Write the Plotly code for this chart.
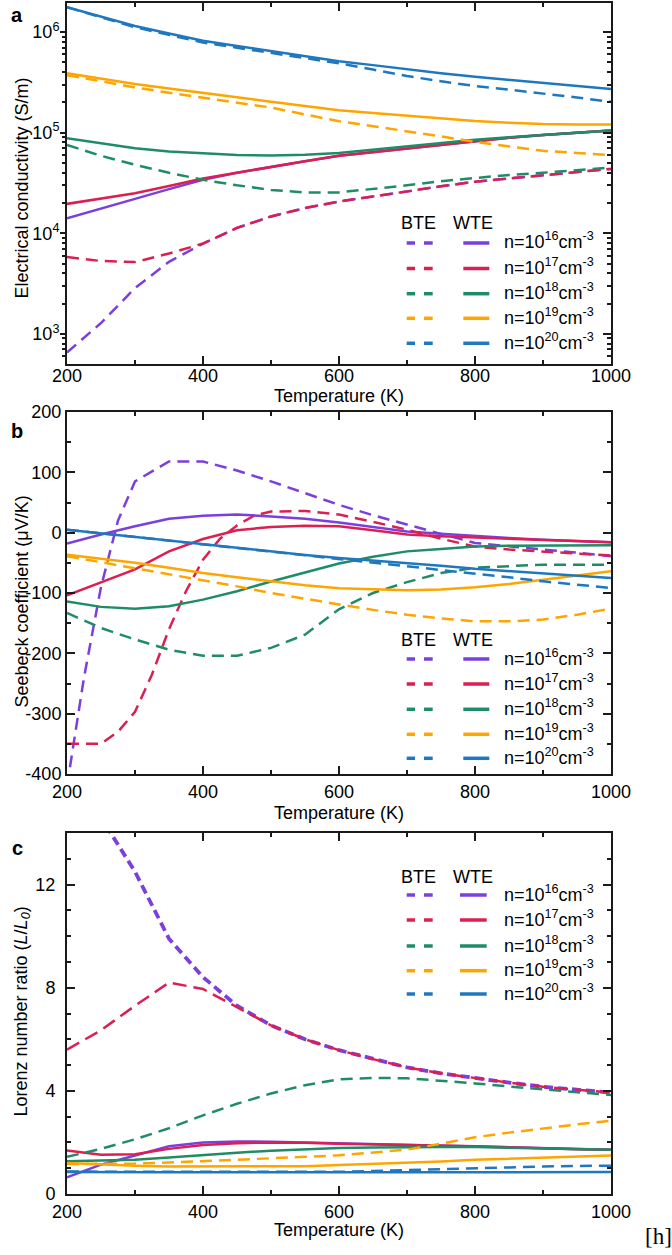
import plotly.graph_objects as go

# ---------------- data ----------------
T = [200, 250, 300, 350, 400, 450, 500, 550, 600, 650, 700, 750, 800, 850, 900, 950, 1000]
labels_n = ["16", "17", "18", "19", "20"]
colors = ["#7b3fdc", "#dc1f52", "#1f8c66", "#ffa500", "#1f78bf"]

# Panel a: electrical conductivity (S/m)
sig_wte = [
    [1.41e4, 1.75e4, 2.2e4, 2.75e4, 3.4e4, 4.0e4, 4.6e4, 5.2e4, 5.9e4, 6.4e4, 7.0e4, 7.6e4, 8.3e4, 8.9e4, 9.5e4, 1.0e5, 1.05e5],
    [1.96e4, 2.2e4, 2.5e4, 2.95e4, 3.5e4, 4.0e4, 4.6e4, 5.2e4, 5.9e4, 6.4e4, 7.0e4, 7.6e4, 8.3e4, 8.9e4, 9.5e4, 1.0e5, 1.05e5],
    [8.8e4, 7.8e4, 7.0e4, 6.5e4, 6.2e4, 6.0e4, 5.95e4, 6.05e4, 6.3e4, 6.8e4, 7.3e4, 7.9e4, 8.5e4, 9.0e4, 9.5e4, 1.0e5, 1.05e5],
    [3.9e5, 3.45e5, 3.05e5, 2.75e5, 2.5e5, 2.25e5, 2.03e5, 1.84e5, 1.67e5, 1.57e5, 1.48e5, 1.39e5, 1.31e5, 1.26e5, 1.22e5, 1.21e5, 1.21e5],
    [1.77e6, 1.42e6, 1.15e6, 9.7e5, 8.2e5, 7.3e5, 6.5e5, 5.8e5, 5.15e5, 4.7e5, 4.27e5, 3.9e5, 3.6e5, 3.35e5, 3.1e5, 2.9e5, 2.72e5],
]
sig_bte = [
    [653, 1.28e3, 2.85e3, 5.2e3, 7.9e3, 1.13e4, 1.47e4, 1.78e4, 2.07e4, 2.33e4, 2.6e4, 2.93e4, 3.26e4, 3.52e4, 3.8e4, 4.08e4, 4.37e4],
    [5.8e3, 5.3e3, 5.17e3, 6.3e3, 7.9e3, 1.13e4, 1.47e4, 1.78e4, 2.07e4, 2.33e4, 2.6e4, 2.93e4, 3.26e4, 3.52e4, 3.8e4, 4.08e4, 4.37e4],
    [7.55e4, 5.9e4, 4.8e4, 4.0e4, 3.4e4, 3.0e4, 2.7e4, 2.55e4, 2.55e4, 2.75e4, 3.0e4, 3.3e4, 3.57e4, 3.8e4, 4.0e4, 4.25e4, 4.5e4],
    [3.74e5, 3.25e5, 2.82e5, 2.5e5, 2.24e5, 2.0e5, 1.78e5, 1.52e5, 1.3e5, 1.16e5, 1.04e5, 9.2e4, 8.1e4, 7.3e4, 6.6e4, 6.3e4, 6.0e4],
    [1.77e6, 1.40e6, 1.12e6, 9.4e5, 7.9e5, 7.0e5, 6.25e5, 5.5e5, 4.9e5, 4.25e5, 3.66e5, 3.25e5, 2.91e5, 2.68e5, 2.46e5, 2.24e5, 2.03e5],
]

# Panel b: Seebeck coefficient (uV/K)
T_s16_bte = [200, 225, 250, 275, 300, 350, 400, 450, 500, 550, 600, 650, 700, 750, 800, 850, 900, 950, 1000]
s16_bte = [-420, -240, -90, 20, 85, 118, 118, 103, 85, 66, 46, 29, 13, -2, -17, -23, -28, -33, -39]
T_s17_bte = [200, 250, 275, 300, 325, 350, 375, 400, 425, 450, 475, 500, 550, 600, 650, 700, 750, 800, 850, 900, 950, 1000]
s17_bte = [-350, -350, -330, -297, -235, -160, -97, -45, -10, 12, 28, 35, 36, 30, 18, 5, -10, -23, -28, -31, -35, -38]
see_wte = [
    [-18, -3, 10.5, 23, 28, 30, 27, 23, 17, 10, 2, -2, -6, -9, -11.6, -14, -16],
    [-104, -83, -61, -31, -10.5, 4, 9.5, 11.6, 10.5, 4, -3, -6, -8, -10, -11.6, -14, -16],
    [-114, -123, -126, -122, -111, -97, -81, -66, -51, -40, -31, -27, -23, -21.5, -21, -21, -21],
    [-36.5, -43, -50, -58, -67, -74, -81, -87, -92, -94, -95.6, -94, -90.6, -85, -78, -71, -64],
    [5, -1, -7, -13, -19.6, -25, -31, -37, -42, -46, -50, -55, -60, -63.5, -67, -71, -75],
]
see_bte_18_20 = [
    [-133, -158, -177, -194, -204, -204, -191, -169, -127, -100, -82, -67, -58, -55, -53, -53, -53],
    [-39, -49, -58.6, -68, -78, -89, -100, -110, -119, -128, -136, -142, -147, -147, -144, -136, -126],
    [5, -1, -7, -13, -20, -26, -32, -38, -44, -50, -56, -62, -68, -74, -80.7, -86, -91.7],
]

# Panel c: Lorenz number ratio
lor_wte = [
    [0.65, 1.14, 1.49, 1.85, 2.0, 2.04, 2.03, 2.0, 1.96, 1.93, 1.9, 1.87, 1.84, 1.81, 1.78, 1.75, 1.72],
    [1.69, 1.52, 1.54, 1.75, 1.9, 1.97, 2.0, 1.99, 1.95, 1.93, 1.91, 1.88, 1.85, 1.81, 1.77, 1.74, 1.72],
    [1.27, 1.29, 1.33, 1.42, 1.52, 1.6, 1.68, 1.74, 1.78, 1.8, 1.82, 1.82, 1.82, 1.8, 1.77, 1.75, 1.72],
    [1.2, 1.14, 1.1, 1.07, 1.07, 1.07, 1.07, 1.08, 1.12, 1.16, 1.2, 1.26, 1.33, 1.37, 1.4, 1.45, 1.49],
    [0.85, 0.84, 0.84, 0.84, 0.84, 0.84, 0.84, 0.84, 0.84, 0.84, 0.84, 0.84, 0.84, 0.84, 0.84, 0.85, 0.85],
]
lor_bte = [
    [19.5, 14.6, 12.5, 9.9, 8.41, 7.3, 6.54, 6.0, 5.58, 5.23, 4.91, 4.68, 4.49, 4.32, 4.16, 4.04, 3.93],
    [5.6, 6.35, 7.3, 8.2, 7.95, 7.25, 6.54, 6.0, 5.58, 5.23, 4.91, 4.68, 4.49, 4.32, 4.16, 4.04, 3.93],
    [1.44, 1.75, 2.12, 2.55, 3.05, 3.5, 3.9, 4.22, 4.45, 4.5, 4.49, 4.4, 4.29, 4.17, 4.06, 3.95, 3.84],
    [1.16, 1.16, 1.18, 1.22, 1.27, 1.32, 1.38, 1.44, 1.5, 1.6, 1.72, 1.95, 2.2, 2.38, 2.55, 2.7, 2.84],
    [0.87, 0.86, 0.86, 0.86, 0.86, 0.86, 0.86, 0.86, 0.86, 0.89, 0.92, 0.96, 1.0, 1.03, 1.07, 1.09, 1.1],
]

x_ticks = [200, 400, 600, 800, 1000]
ya_ticks = [1e3, 1e4, 1e5, 1e6]
ya_text = ["10<sup>3</sup>", "10<sup>4</sup>", "10<sup>5</sup>", "10<sup>6</sup>"]
ya_minor = [m * 10 ** e for e in (2, 3, 4, 5, 6) for m in range(2, 10)]
yb_ticks = [-400, -300, -200, -100, 0, 100, 200]
yb_text = ["-400", "-300", "-200", "-100", "0", "100", "200"]
yc_ticks = [0, 4, 8, 12]

# ---------------- figure ----------------
W, H = 672, 1255
FONT = "Liberation Sans, Arial, sans-serif"
AX = "#1a1a1a"
DASH = "12px,7px"

def fx(px):
    return px / W

def fy(py):
    return 1 - py / H

fig = go.Figure()

panels = [(3, 364), (412, 774), (833, 1194)]
XL, XR = 67, 611

def add(xa, ya, x, y, color, dash=None, width=2.5):
    fig.add_trace(go.Scatter(x=x, y=y, mode="lines", xaxis=xa, yaxis=ya,
                             line=dict(color=color, width=width, dash=dash),
                             showlegend=False, hoverinfo="skip"))

# Panel a
for i in range(5):
    add("x", "y", T, sig_bte[i], colors[i], DASH)
    add("x", "y", T, sig_wte[i], colors[i])
# Panel b
add("x2", "y2", T_s16_bte, s16_bte, colors[0], DASH)
add("x2", "y2", T, see_wte[0], colors[0])
add("x2", "y2", T_s17_bte, s17_bte, colors[1], DASH)
add("x2", "y2", T, see_wte[1], colors[1])
for i in range(2, 5):
    add("x2", "y2", T, see_bte_18_20[i - 2], colors[i], DASH)
    add("x2", "y2", T, see_wte[i], colors[i])
# Panel c
add("x3", "y3", T, lor_bte[0], colors[0], "9px,5px", 3.8)
add("x3", "y3", T, lor_wte[0], colors[0])
add("x3", "y3", T, lor_bte[1], colors[1], "14px,7px")
add("x3", "y3", T, lor_wte[1], colors[1])
for i in range(2, 5):
    add("x3", "y3", T, lor_bte[i], colors[i], DASH)
    add("x3", "y3", T, lor_wte[i], colors[i])

tickfont = dict(family=FONT, size=18, color="black")

def xaxis_cfg(anchor, standoff):
    return dict(domain=[fx(XL), fx(XR)], anchor=anchor, range=[200, 1000],
                tickmode="array", tickvals=x_ticks, ticks="inside", ticklen=8, tickwidth=1.5,
                tickcolor=AX, showline=True, linewidth=2, linecolor=AX,
                mirror="ticks", showgrid=False, zeroline=False, automargin=False,
                tickfont=tickfont, ticklabelstandoff=standoff,
                minor=dict(dtick=100, tick0=200, ticks="inside", ticklen=4,
                           tickwidth=1.5, tickcolor=AX, showgrid=False))

def ydom(top, bot):
    return [fy(bot), fy(top)]

layout = dict(template="none", width=W, height=H, margin=dict(l=0, r=0, t=0, b=0),
              paper_bgcolor="white", plot_bgcolor="white", showlegend=False,
              font=dict(family=FONT, size=18, color="black"))

layout["xaxis"] = xaxis_cfg("y", -6)
layout["xaxis2"] = xaxis_cfg("y2", 0)
layout["xaxis3"] = xaxis_cfg("y3", 0)

common_y = dict(showline=True, linewidth=2, linecolor=AX, mirror=True, automargin=False,
                showgrid=False, zeroline=False, tickcolor=AX, tickwidth=1.5,
                tickfont=tickfont)

layout["yaxis"] = dict(common_y, domain=ydom(*panels[0]), anchor="x", type="log",
                       range=[2.7, 6.29], tickmode="array", tickvals=ya_ticks,
                       ticktext=ya_text, ticks="outside", ticklen=5,
                       ticklabelstandoff=-3,
                       minor=dict(tickmode="array", tickvals=ya_minor, ticks="outside",
                                  ticklen=3, tickwidth=1.5, tickcolor=AX))
layout["yaxis2"] = dict(common_y, domain=ydom(*panels[1]), anchor="x2",
                        range=[-400, 200], tickmode="array", tickvals=yb_ticks,
                        ticktext=yb_text, ticks="inside", ticklen=8,
                        ticklabelstandoff=0,
                        minor=dict(tickmode="linear", dtick=50, tick0=0, ticks="inside", ticklen=4,
                                   tickwidth=1.5, tickcolor=AX))
layout["yaxis3"] = dict(common_y, domain=ydom(*panels[2]), anchor="x3",
                        range=[0, 14], tickmode="array", tickvals=yc_ticks,
                        ticks="inside", ticklen=8, ticklabelstandoff=6,
                        minor=dict(tickmode="linear", dtick=1, tick0=0, ticks="inside", ticklen=4,
                                   tickwidth=1.5, tickcolor=AX))
# right-side inward ticks
layout["yaxis4"] = dict(overlaying="y", anchor="x", side="right", type="log",
                        range=[2.7, 6.29], tickmode="array", tickvals=ya_ticks,
                        ticks="inside", ticklen=8, tickwidth=1.5, tickcolor=AX,
                        showticklabels=False, showgrid=False, zeroline=False, showline=False,
                        automargin=False,
                        minor=dict(tickmode="array", tickvals=ya_minor, ticks="inside",
                                   ticklen=4, tickwidth=1.5, tickcolor=AX))
layout["yaxis5"] = dict(overlaying="y2", anchor="x2", side="right", range=[-400, 200],
                        tickmode="array", tickvals=yb_ticks, ticks="inside", ticklen=8,
                        tickwidth=1.5, tickcolor=AX, showticklabels=False, showgrid=False,
                        zeroline=False, showline=False, automargin=False,
                        minor=dict(tickmode="linear", dtick=50, tick0=0, ticks="inside", ticklen=4,
                                   tickwidth=1.5, tickcolor=AX))
layout["yaxis6"] = dict(overlaying="y3", anchor="x3", side="right", range=[0, 14],
                        tickmode="array", tickvals=yc_ticks, ticks="inside", ticklen=8,
                        tickwidth=1.5, tickcolor=AX, showticklabels=False, showgrid=False,
                        zeroline=False, showline=False, automargin=False,
                        minor=dict(tickmode="linear", dtick=1, tick0=0, ticks="inside", ticklen=4,
                                   tickwidth=1.5, tickcolor=AX))
fig.update_layout(**layout)

# placeholder traces so the right-side overlay axes render
for ya, xa in (("y4", "x"), ("y5", "x2"), ("y6", "x3")):
    fig.add_trace(go.Scatter(x=[None], y=[None], xaxis=xa, yaxis=ya, mode="lines",
                             showlegend=False, hoverinfo="skip"))

ann = []
def text(x, y, s, size=18, xanchor="center", yanchor="middle", angle=0, family=FONT, bold=False):
    if bold:
        s = "<b>" + s + "</b>"
    ann.append(dict(x=fx(x), y=fy(y), xref="paper", yref="paper", text=s, showarrow=False,
                    xanchor=xanchor, yanchor=yanchor, textangle=angle,
                    font=dict(family=family, size=size, color="black")))

# axis titles
for yc in (396, 813, 1230):
    text(339, yc, "Temperature (K)")
text(21.5, 188, "Electrical conductivity (S/m)", angle=-90)
text(21.5, 602, "Seebeck coefficient (μV/K)", angle=-90)
text(21.5, 1012, "Lorenz number ratio (<i>L</i>/<i>L</i><sub><i>0</i></sub>)", angle=-90)

# panel letters
text(17, 15, "a", size=20, bold=True)
text(17, 431, "b", size=20, bold=True)
text(17, 848, "c", size=20, bold=True)

# legends
shapes = []
legend_rows = [
    (223, [243, 268.5, 293.7, 318.3, 343.3], 463.3, 489.3),
    (640, [659, 684, 709.3, 734.3, 758.3], 463.3, 489.3),
    (877, [895, 920, 946, 970.7, 994], 460, 486.7),
]
for hy, rows, sx0, sx1 in legend_rows:
    text(418, hy, "BTE")
    text(473, hy, "WTE")
    for i, ry in enumerate(rows):
        for d0, d1 in ((406.7, 415), (424, 432.7)):
            shapes.append(dict(type="line", xref="paper", yref="paper",
                               x0=fx(d0), x1=fx(d1), y0=fy(ry), y1=fy(ry),
                               line=dict(color=colors[i], width=3.5)))
        shapes.append(dict(type="line", xref="paper", yref="paper",
                           x0=fx(sx0), x1=fx(sx1), y0=fy(ry), y1=fy(ry),
                           line=dict(color=colors[i], width=3.5)))
        text(501.7, ry - 2, "n=10<sup>%s</sup>cm<sup>-3</sup>" % labels_n[i], xanchor="left")

text(643, 1236, "[h]", size=23, xanchor="left", family="Liberation Serif, DejaVu Serif, serif")

fig.update_layout(annotations=ann, shapes=shapes)
fig.write_html("out.html", config={"displayModeBar": False},
               post_script="document.body.style.margin='0';document.body.style.overflow='hidden';")
